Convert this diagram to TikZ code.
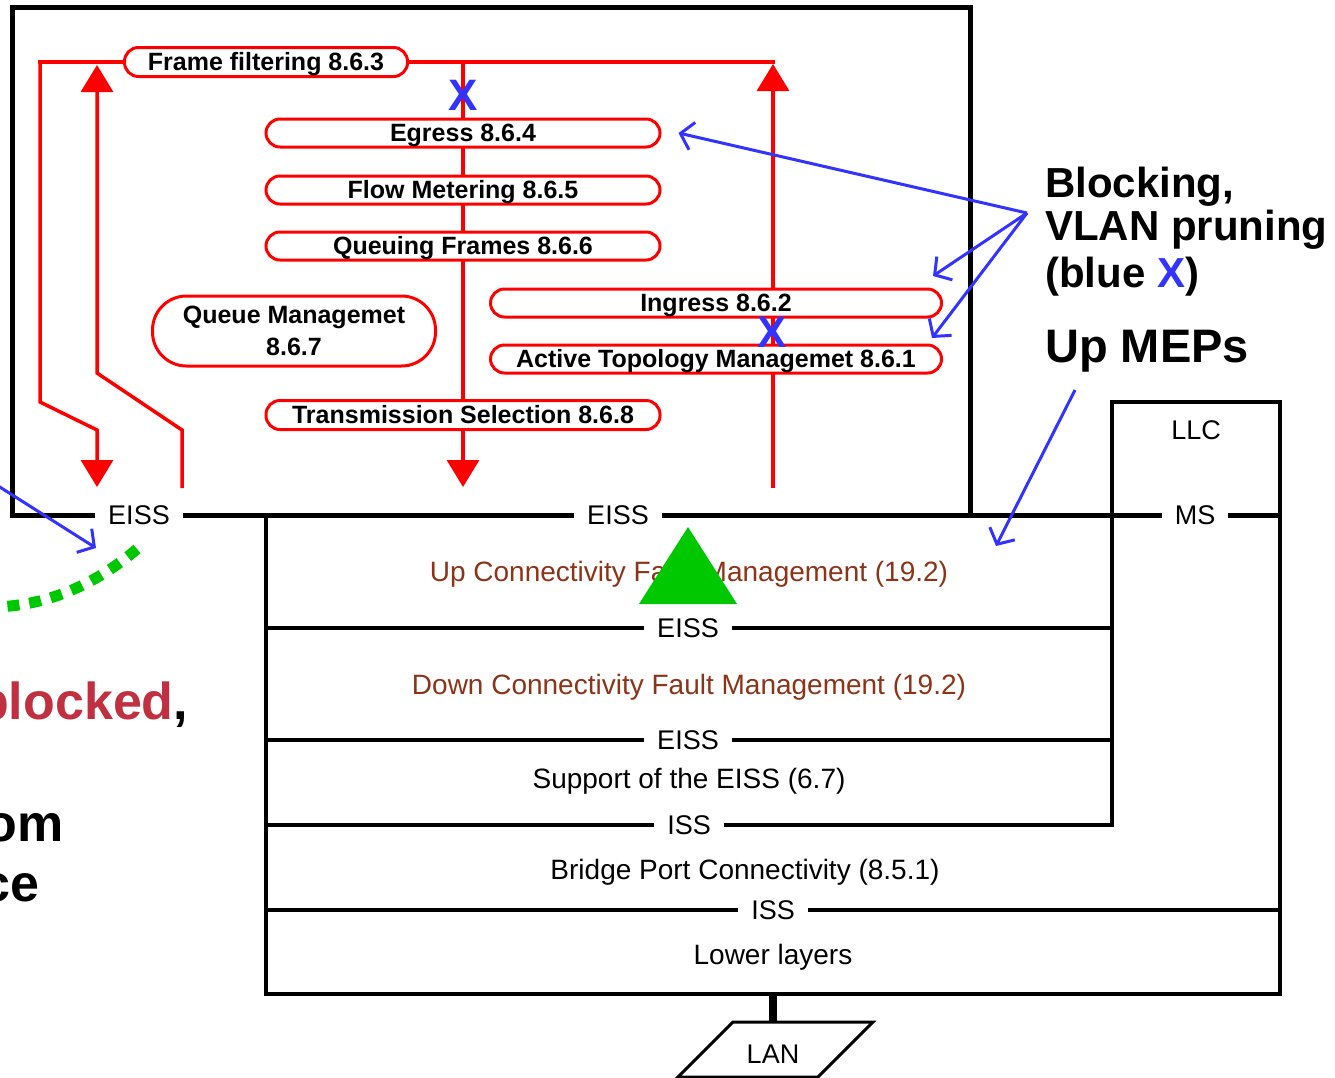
\documentclass[tikz,border=0pt]{standalone}
\usepackage{fontspec}
\setmainfont{Liberation Sans}
\usetikzlibrary{arrows.meta}
\definecolor{xblue}{RGB}{51,51,255}
\definecolor{xgreen}{RGB}{0,200,0}
\definecolor{xbrown}{RGB}{140,52,24}
\definecolor{xred}{RGB}{255,0,0}
\definecolor{xcrimson}{RGB}{192,48,64}
\newcommand{\myfs}[1]{\fontsize{#1pt}{#1pt}\selectfont}
\tikzset{
  frameline/.style={line width=5pt, black},
  stackline/.style={line width=4pt, black},
  lbl/.style={fill=white, inner xsep=13pt, inner ysep=3pt, font=\myfs{27}},
  stk/.style={inner sep=0pt, font=\myfs{28}, text height=20.5pt, text depth=0.5pt},
  rline/.style={draw=xred, line width=3.5pt},
  bigtip/.style={-{Triangle[length=27pt,width=32pt]}},
  rbox/.style={draw=xred, line width=3pt, fill=white, rounded corners=14pt, inner sep=0pt, font=\bfseries\myfs{25}, text height=22.9pt, text depth=5pt},
  bx/.style={inner sep=0pt, text=xblue, font=\bfseries\myfs{44}},
  barrow/.style={draw=xblue, line width=3pt, -{Straight Barb[length=12pt,width=28pt]}},
  side/.style={inner sep=0pt, anchor=base west, font=\bfseries\myfs{42}},
  lt/.style={inner sep=0pt, font=\bfseries\myfs{52}},
}
\begin{document}
\begin{tikzpicture}[x=1pt,y=-1pt]
\clip (0,0) rectangle (1335,1077);
\fill[white] (0,0) rectangle (1335,1077);

% black structure
\draw[frameline] (970,515) -- (970,7) -- (12,7) -- (12,515) -- (1280,515);
\draw[stackline] (266,515) -- (266,994) -- (1280,994) -- (1280,402) -- (1112,402) -- (1112,825) -- (266,825);
\draw[stackline] (266,628) -- (1112,628);
\draw[stackline] (266,740) -- (1112,740);
\draw[stackline] (266,910) -- (1280,910);

% interface labels
\node[lbl] (eissA) at (139,515) {EISS};
\node[lbl] (eissB) at (618,515) {EISS};
\node[lbl] (ms) at (1195,515) {MS};
\node[inner sep=0pt, font=\myfs{27}] (llc) at (1196,430) {LLC};
\node[lbl] (eissC) at (688,628) {EISS};
\node[lbl] (eissD) at (688,740) {EISS};
\node[lbl] (issA) at (689,825) {ISS};
\node[lbl] (issB) at (773,910) {ISS};

% layer texts
\node[stk, text=xbrown] (upcfm) at (689,571) {Up Connectivity Fault Management (19.2)};
\node[stk, text=xbrown] (downcfm) at (689,684) {Down Connectivity Fault Management (19.2)};
\node[stk] (support) at (689,778) {Support of the EISS (6.7)};
\node[stk] (bpc) at (745,869) {Bridge Port Connectivity (8.5.1)};
\node[stk] (lower) at (773,954) {Lower layers};

% LAN
\coordinate (lantop) at (773,1022);
\draw[line width=8pt] (773,994) -- (lantop);
\draw[line width=3pt] (733,1022) -- (873,1022) -- (818,1077) -- (678,1077) -- cycle;
\node[inner sep=0pt, font=\myfs{27}] (lan) at (773,1054) {LAN};

% red relay paths (drawn under boxes)
\coordinate (ffR) at (775,62);
\coordinate (ffL) at (38,62);
\draw[rline, bigtip] (ffL) -- (40,62) -- (40,402) -- (97,430) -- (97,487);
\draw[rline, bigtip] (182,488) -- (182,430) -- (97,373) -- (97,65);
\draw[rline] (ffL) -- (ffR);
\draw[rline, bigtip] (463,62) -- (463,487);
\draw[rline, bigtip] (773,488) -- (773,64);

% red boxes
\node[rbox, minimum width=283pt, minimum height=29pt] (ff) at (266,62) {Frame filtering 8.6.3};
\node[rbox, minimum width=394pt, minimum height=28pt] (egress) at (463,133) {Egress 8.6.4};
\node[rbox, minimum width=394pt, minimum height=28pt] (flow) at (463,190) {Flow Metering 8.6.5};
\node[rbox, minimum width=394pt, minimum height=28pt] (queuing) at (463,246) {Queuing Frames 8.6.6};
\node[draw=xred, line width=3pt, fill=white, inner sep=0pt, minimum width=283pt, minimum height=70pt, rounded corners=34pt, align=center, font=\bfseries\fontsize{25pt}{32pt}\selectfont] (qm) at (294,331) {Queue Managemet\\8.6.7};
\node[rbox, minimum width=451pt, minimum height=28pt] (ingress) at (716,303) {Ingress 8.6.2};
\node[rbox, minimum width=451pt, minimum height=28pt] (atm) at (716,359) {Active Topology Managemet 8.6.1};
\node[rbox, minimum width=394pt, minimum height=29pt] (ts) at (463,415) {Transmission Selection 8.6.8};

% green triangle
\fill[xgreen] (688,527) -- (737,604) -- (639,604) -- cycle;

% blue X marks
\node[bx] (xA) at (463,95) {X};
\node[bx] (xB) at (772,332) {X};

% blue arrows
\coordinate (apex) at (1027,213);
\coordinate (tipB) at (933,276);
\coordinate (tipC) at (932,338);
\coordinate (mepS) at (1075,390);
\coordinate (mepT) at (996,546);
\coordinate (leftS) at (-5,484);
\coordinate (leftT) at (96,548);
\draw[barrow] (apex) -- ([xshift=17pt]egress.east);
\draw[barrow] (apex) -- (tipB);
\draw[barrow] (apex) -- (tipC);
\draw[barrow] (mepS) -- (mepT);
\draw[barrow] (leftS) -- (leftT);

% green dotted curve
\draw[xgreen, line width=11pt, dash pattern=on 12pt off 10pt] (137,549) .. controls (95,585) and (45,607) .. (-10,607);

% side texts
\node[side] (t1) at (1045,197) {Blocking,};
\node[side] (t2) at (1045,240) {VLAN pruning};
\node[side] (t3) at (1045,287) {(blue \textcolor{xblue}{X})};
\node[side, font=\bfseries\myfs{47}] (t4) at (1045,362) {Up MEPs};

% left cut texts
\node[lt, anchor=base west, text=xcrimson] (blocked) at (-23,719) {blocked\textcolor{black}{,}};
\node[lt, anchor=base east] (om) at (64,841) {om};
\node[lt, anchor=base east] (ce) at (40,901) {ce};
\end{tikzpicture}
\end{document}
